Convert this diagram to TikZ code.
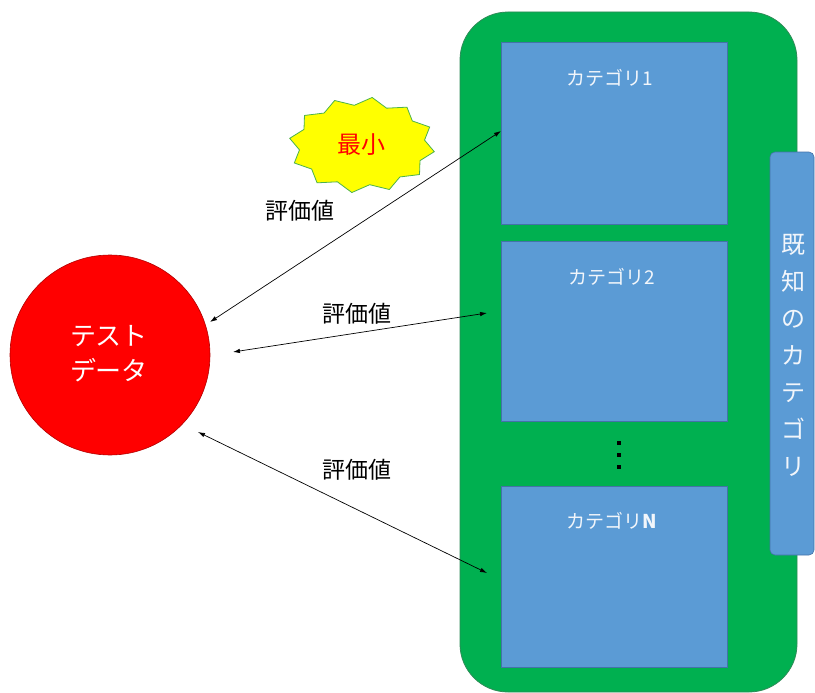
\documentclass[tikz,border=0pt]{standalone}
\usepackage{fontspec}
\setmainfont{Noto Sans CJK JP}
\newfontfamily\jp{Noto Sans CJK JP}
\usetikzlibrary{arrows.meta}
\definecolor{grn}{HTML}{00B050}
\definecolor{grnedge}{HTML}{2E8B57}
\definecolor{blu}{HTML}{5B9BD5}
\definecolor{bluedge}{HTML}{4472A8}
\definecolor{yel}{HTML}{FFFF00}
\definecolor{lbl}{HTML}{F2F6FB}
\tikzset{
  catbox/.style={draw=bluedge, fill=blu, line width=0.8pt},
  catlabel/.style={text=lbl, font=\jp\fontsize{19}{22}\selectfont, inner sep=0pt},
  evallabel/.style={font=\jp\fontsize{23}{26}\selectfont, inner sep=0pt},
  biarrow/.style={{Latex[length=7pt,width=4.5pt]}-{Latex[length=7pt,width=4.5pt]}, line width=0.7pt},
  dot/.style={fill=black, minimum size=3.5pt, inner sep=0pt, rectangle}
}
\begin{document}
\begin{tikzpicture}[x=1pt,y=-1pt]
\useasboundingbox (0,0) rectangle (815,693);
% green container
\draw[fill=grn, draw=grnedge, line width=0.8pt, rounded corners=48pt] (460,12) rectangle (797,692);
\node[catbox, minimum width=226pt, minimum height=182pt, anchor=north west] (c1) at (501,42) {};
\node[catbox, minimum width=226pt, minimum height=180pt, anchor=north west] (c2) at (501,241) {};
\node[catbox, minimum width=226pt, minimum height=181pt, anchor=north west] (c3) at (501,486) {};
\node[catlabel] (l1) at (610,78) {カテゴリ1};
\node[catlabel] (l2) at (612,277) {カテゴリ2};
\node[catlabel] (l3) at (612,521) {カテゴリ\textbf{N}};
\node[dot] (d1) at (619,443) {};
\node[dot] (d2) at (619,455) {};
\node[dot] (d3) at (619,467) {};
% side label
\draw[fill=blu, draw=bluedge, line width=0.6pt, rounded corners=5pt] (770,152) rectangle (814,555);
\node[text=lbl, font=\jp\fontsize{24}{37}\selectfont, align=center, inner sep=0pt] (side) at (793,355) {既\\知\\の\\カ\\テ\\ゴ\\リ};
% test data
\node[circle, fill=red, draw=red!70!black, line width=0.6pt, minimum size=200pt, inner sep=0pt] (td) at (110,355) {};
\node[text=white, font=\jp\fontsize{26}{35}\selectfont, align=center, inner sep=0pt] (tdl) at (109,354) {テスト\\データ};
% starburst
\draw[fill=yel, draw=gray!60!green, line width=0.8pt]
  plot[samples at={0,15,...,345}, variable=\a]
  ({362+ (mod(\a,30)==0 ? 73 : 63)*cos(\a+8)}, {145+ (mod(\a,30)==0 ? 48 : 40)*sin(\a+8)}) -- cycle;
\node[text=red, font=\jp\fontsize{24}{26}\selectfont, inner sep=0pt] (mn) at (361,145) {最小};
% arrows
\coordinate (a1s) at (210,322);
\coordinate (a1e) at (501,131);
\coordinate (a2s) at (233,352);
\coordinate (a2e) at (487,313);
\coordinate (a3s) at (198,432);
\coordinate (a3e) at (487,573);
\draw[biarrow] (a1s) -- (a1e);
\draw[biarrow] (a2s) -- (a2e);
\draw[biarrow] (a3s) -- (a3e);
\node[evallabel] (e1) at (300,211) {評価値};
\node[evallabel] (e2) at (357,314) {評価値};
\node[evallabel] (e3) at (357,470) {評価値};
\end{tikzpicture}
\end{document}
